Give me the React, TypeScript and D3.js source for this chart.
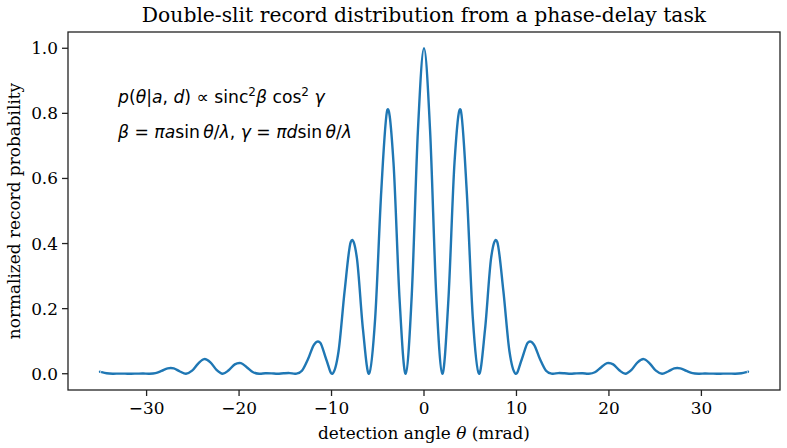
import React from "react";
import * as d3 from "d3";

// detection angle (mrad) and normalized record probability
const angles = [
  -35, -34.98, -34.32, -33.66, -33.0, -32.34, -31.68, -31.02, -30.36, -29.7, -29.04, -28.38, -27.72, -27.06,
  -26.4, -25.74, -25.08, -24.42, -23.76, -23.1, -22.44, -21.78, -21.12, -20.46, -19.8, -19.14, -18.48,
  -17.82, -17.16, -16.5, -15.84, -15.18, -14.52, -13.86, -13.2, -12.54, -11.88, -11.22, -10.56, -9.9,
  -9.24, -8.58, -7.92, -7.26, -6.6, -5.94, -5.28, -4.62, -3.96, -3.3, -2.64, -1.98, -1.32, -0.66,
  0,
  0.66, 1.32, 1.98, 2.64, 3.3, 3.96, 4.62, 5.28, 5.94, 6.6, 7.26, 7.92, 8.58, 9.24, 9.9, 10.56, 11.22,
  11.88, 12.54, 13.2, 13.86, 14.52, 15.18, 15.84, 16.5, 17.16, 17.82, 18.48, 19.14, 19.8, 20.46, 21.12,
  21.78, 22.44, 23.1, 23.76, 24.42, 25.08, 25.74, 26.4, 27.06, 27.72, 28.38, 29.04, 29.7, 30.36, 31.02,
  31.68, 32.34, 33.0, 33.66, 34.32, 34.98, 35,
];
const probability = [
  0.006, 0.0058, 0.0014, 0.0, 0.0004, 0.0003, 0.0, 0.0003, 0.0005, 0.0, 0.0019, 0.0088, 0.0165, 0.0164,
  0.0069, 0.0, 0.0094, 0.0314, 0.045, 0.0351, 0.0118, 0.0, 0.0107, 0.0287, 0.0324, 0.0193,
  0.0047, 0.0, 0.0015, 0.0012, 0.0, 0.0014, 0.002, 0.0, 0.009, 0.045, 0.09, 0.095, 0.043, 0.0,
  0.069, 0.255, 0.405, 0.356, 0.136, 0.0, 0.171, 0.562, 0.811, 0.649, 0.228, 0.0, 0.244, 0.746,
  1.0,
  0.746, 0.244, 0.0, 0.228, 0.649, 0.811, 0.562, 0.171, 0.0, 0.136, 0.356, 0.405, 0.255, 0.069, 0.0,
  0.043, 0.095, 0.09, 0.045, 0.009, 0.0, 0.002, 0.0014, 0.0, 0.0012, 0.0015, 0.0, 0.0047, 0.0193,
  0.0324, 0.0287, 0.0107, 0.0, 0.0118, 0.0351, 0.045, 0.0314, 0.0094, 0.0, 0.0069, 0.0164, 0.0165,
  0.0088, 0.0019, 0.0, 0.0005, 0.0003, 0.0, 0.0003, 0.0004, 0.0, 0.0014, 0.0058, 0.006,
];
const xTicks = [-30, -20, -10, 0, 10, 20, 30];
const yTicks = [0, 0.2, 0.4, 0.6, 0.8, 1.0];

const W = 787;
const H = 448;
const margin = { top: 32, right: 7, bottom: 58, left: 68 };
const serif = "'DejaVu Serif', serif";
const sans = "'DejaVu Sans', sans-serif";

export default function App() {
  const x = d3.scaleLinear().domain([-38.5, 38.5]).range([margin.left, W - margin.right]);
  const y = d3.scaleLinear().domain([-0.05, 1.05]).range([H - margin.bottom, margin.top]);

  const pts = angles.map((a, i) => [a, probability[i]] as [number, number]);
  const line = d3
    .line<[number, number]>()
    .x((d) => x(d[0]))
    .y((d) => y(d[1]))
    .curve(d3.curveCardinal.tension(0));

  const fmtX = (v: number) => (v < 0 ? "\u2212" + Math.abs(v) : String(v));
  const x0 = margin.left;
  const y0 = H - margin.bottom;

  return (
    <svg width={W} height={H} style={{ position: "absolute", left: 0, top: 0, background: "white" }}>
      <text x={(x0 + W - margin.right) / 2} y={22} textAnchor="middle" fontFamily={serif} fontSize={20.3}>
        Double-slit record distribution from a phase-delay task
      </text>

      <path d={line(pts) ?? ""} fill="none" stroke="#1f77b4" strokeWidth={2.4} strokeLinejoin="round" />

      <rect
        x={x0}
        y={margin.top}
        width={W - margin.right - x0}
        height={y0 - margin.top}
        fill="none"
        stroke="#222"
        strokeWidth={1.3}
      />

      {xTicks.map((t) => (
        <g key={"x" + t}>
          <line x1={x(t)} x2={x(t)} y1={y0} y2={y0 + 6} stroke="#222" strokeWidth={1.3} />
          <text x={x(t)} y={y0 + 24} textAnchor="middle" fontFamily={serif} fontSize={16.9}>
            {fmtX(t)}
          </text>
        </g>
      ))}
      {yTicks.map((t) => (
        <g key={"y" + t}>
          <line x1={x0 - 6} x2={x0} y1={y(t)} y2={y(t)} stroke="#222" strokeWidth={1.3} />
          <text x={x0 - 10} y={y(t) + 6} textAnchor="end" fontFamily={serif} fontSize={16.9}>
            {t.toFixed(1)}
          </text>
        </g>
      ))}

      <text x={(x0 + W - margin.right) / 2} y={439} textAnchor="middle" fontFamily={serif} fontSize={16.9}>
        detection angle <tspan fontStyle="italic">θ</tspan> (mrad)
      </text>
      <text
        transform={`translate(20,${(margin.top + y0) / 2}) rotate(-90)`}
        textAnchor="middle"
        fontFamily={serif}
        fontSize={16.9}
      >
        normalized record probability
      </text>

      <text x={118} y={103} fontFamily={sans} fontSize={17.2}>
        <tspan fontStyle="italic">p</tspan>(<tspan fontStyle="italic">θ</tspan>|<tspan fontStyle="italic">a</tspan>,{" "}
        <tspan fontStyle="italic">d</tspan>) ∝ sinc
        <tspan fontSize={12} dy={-7}>2</tspan>
        <tspan fontStyle="italic" dy={7}>β</tspan> cos
        <tspan fontSize={12} dy={-7}>2</tspan>
        <tspan fontStyle="italic" dy={7}> γ</tspan>
      </text>
      <text x={118} y={138} fontFamily={sans} fontSize={17.2}>
        <tspan fontStyle="italic">β</tspan> = <tspan fontStyle="italic">πa</tspan>sin{"\u2009"}
        <tspan fontStyle="italic">θ</tspan>/<tspan fontStyle="italic">λ</tspan>, <tspan fontStyle="italic">γ</tspan> ={" "}
        <tspan fontStyle="italic">πd</tspan>sin{"\u2009"}
        <tspan fontStyle="italic">θ</tspan>/<tspan fontStyle="italic">λ</tspan>
      </text>
    </svg>
  );
}
